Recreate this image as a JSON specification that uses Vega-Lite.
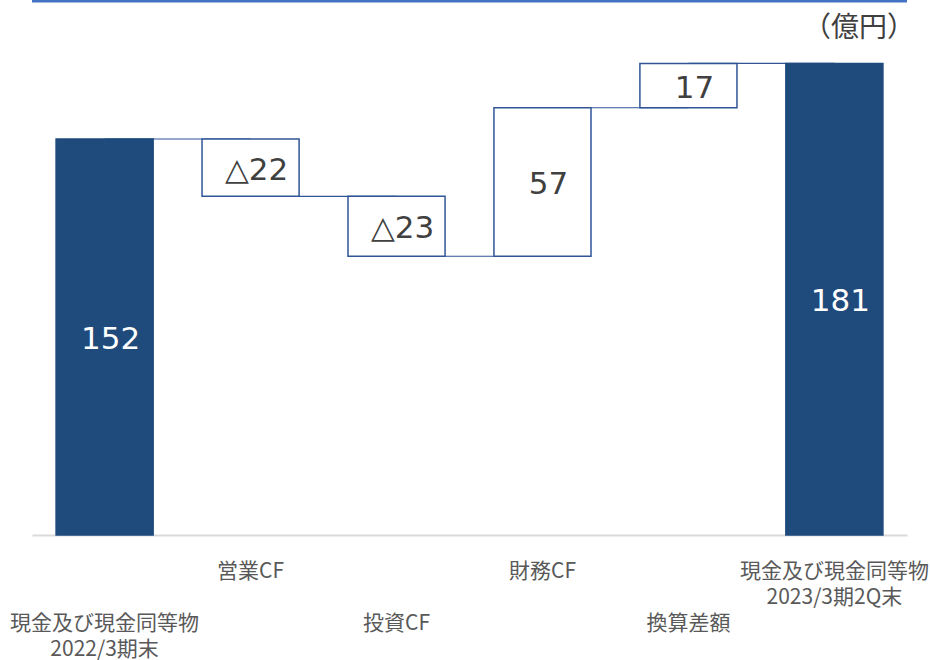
{
  "$schema": "https://vega.github.io/schema/vega-lite/v6.json",
  "autosize": {"type": "none"},
  "width": 875,
  "height": 495,
  "padding": {"left": 32, "top": 40, "right": 23, "bottom": 125},
  "background": "white",
  "config": {"view": {"stroke": null}},
  "datasets": {
    "steps": [
      {"cat": "現金及び現金同等物|2022/3期末", "kind": "total", "value": 152, "start": 0, "end": 152},
      {"cat": "営業CF", "kind": "change", "value": -22, "start": 152, "end": 130},
      {"cat": "投資CF", "kind": "change", "value": -23, "start": 130, "end": 107},
      {"cat": "財務CF", "kind": "change", "value": 57, "start": 107, "end": 164},
      {"cat": "換算差額", "kind": "change", "value": 17, "start": 164, "end": 181},
      {"cat": "現金及び現金同等物|2023/3期2Q末", "kind": "total", "value": 181, "start": 0, "end": 181}
    ],
    "links": [
      {"from": "現金及び現金同等物|2022/3期末", "to": "営業CF", "level": 152},
      {"from": "営業CF", "to": "投資CF", "level": 130},
      {"from": "投資CF", "to": "財務CF", "level": 107},
      {"from": "財務CF", "to": "換算差額", "level": 164},
      {"from": "換算差額", "to": "現金及び現金同等物|2023/3期2Q末", "level": 181}
    ]
  },
  "resolve": {"scale": {"x": "shared", "y": "shared"}},
  "layer": [
    {
      "data": {"values": [{"rule": "top"}]},
      "mark": {"type": "rule", "color": "#4472C4", "strokeWidth": 3},
      "encoding": {
        "y": {"datum": 205, "type": "quantitative", "scale": {"domain": [0, 190], "nice": false, "zero": true}, "axis": null}
      }
    },
    {
      "data": {"values": [{"unit": "（億円）"}]},
      "mark": {"type": "text", "font": "Noto Sans CJK JP", "fontSize": 28, "color": "#404040", "align": "right", "baseline": "middle", "dx": 32},
      "encoding": {
        "x": {"datum": "現金及び現金同等物|2023/3期2Q末", "type": "nominal", "bandPosition": 1},
        "y": {"datum": 194.3, "type": "quantitative"},
        "text": {"field": "unit"}
      }
    },
    {
      "data": {"name": "links"},
      "mark": {"type": "rule", "color": "#2F5597", "strokeWidth": 1.2},
      "encoding": {
        "x": {
          "field": "from", "type": "nominal", "sort": null,
          "scale": {"domain": ["現金及び現金同等物|2022/3期末", "営業CF", "投資CF", "財務CF", "換算差額", "現金及び現金同等物|2023/3期2Q末"], "paddingInner": 0.335, "paddingOuter": 0.165},
          "axis": {
            "title": null,
            "ticks": false,
            "tickSize": 0,
            "grid": false,
            "domainColor": "#D9D9D9",
            "domainWidth": 2,
            "labelAngle": 0,
            "labelAlign": "center",
            "labelBaseline": "top",
            "labelPadding": {"condition": {"test": "indexof(['営業CF', '財務CF', '現金及び現金同等物|2023/3期2Q末'], datum.value) >= 0", "value": 25}, "value": 77},
            "labelFont": "Noto Sans CJK JP",
            "labelFontSize": 21,
            "labelColor": "#595959",
            "labelLineHeight": 26,
            "labelOverlap": false,
            "labelBound": false,
            "labelFlush": false,
            "labelLimit": 0,
            "labelExpr": "split(datum.value, '|')"
          }
        },
        "x2": {"field": "to"},
        "y": {"field": "level", "type": "quantitative"}
      }
    },
    {
      "data": {"name": "steps"},
      "mark": {"type": "bar", "strokeWidth": 1.5},
      "encoding": {
        "x": {
          "field": "cat", "type": "nominal", "sort": null,
          "axis": {
            "title": null,
            "ticks": false,
            "tickSize": 0,
            "grid": false,
            "domainColor": "#D9D9D9",
            "domainWidth": 2,
            "labelAngle": 0,
            "labelAlign": "center",
            "labelBaseline": "top",
            "labelPadding": {"condition": {"test": "indexof(['営業CF', '財務CF', '現金及び現金同等物|2023/3期2Q末'], datum.value) >= 0", "value": 25}, "value": 77},
            "labelFont": "Noto Sans CJK JP",
            "labelFontSize": 21,
            "labelColor": "#595959",
            "labelLineHeight": 26,
            "labelOverlap": false,
            "labelBound": false,
            "labelFlush": false,
            "labelLimit": 0,
            "labelExpr": "split(datum.value, '|')"
          }
        },
        "y": {"field": "start", "type": "quantitative"},
        "y2": {"field": "end"},
        "fill": {
          "condition": {"test": "datum.kind === 'total'", "value": "#1F4A7C"},
          "value": "white"
        },
        "stroke": {
          "condition": {"test": "datum.kind === 'total'", "value": "#1F4A7C"},
          "value": "#2F5597"
        }
      }
    },
    {
      "data": {"name": "steps"},
      "transform": [
        {"calculate": "(datum.start + datum.end) / 2", "as": "mid"},
        {"calculate": "datum.value < 0 ? '△' + format(-datum.value, 'd') : format(datum.value, 'd')", "as": "label"}
      ],
      "mark": {"type": "text", "font": "DejaVu Sans", "fontSize": 31, "dx": 6, "dy": 3, "baseline": "middle", "align": "center"},
      "encoding": {
        "x": {"field": "cat", "type": "nominal", "sort": null},
        "y": {"field": "mid", "type": "quantitative"},
        "text": {"field": "label"},
        "color": {
          "condition": {"test": "datum.kind === 'total'", "value": "white"},
          "value": "#404040"
        }
      }
    }
  ]
}
